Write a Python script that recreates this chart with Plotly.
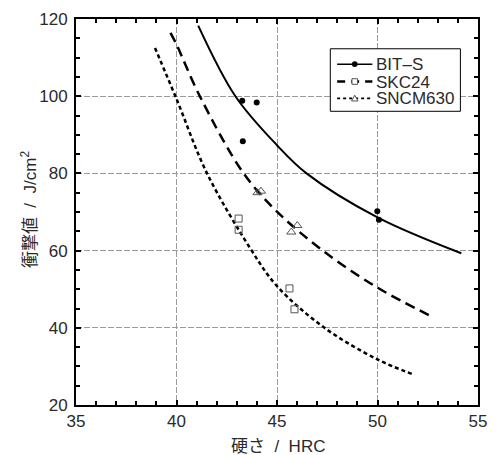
import plotly.graph_objects as go

# --- data ---
bit_line_x = [41.08, 42.93, 45.0, 46.47, 50.0, 54.17]
bit_line_y = [118.3, 100.0, 87.3, 80.0, 68.6, 59.3]
bit_pts_x = [43.27, 43.99, 43.3, 49.99, 50.07]
bit_pts_y = [98.8, 98.4, 88.3, 70.2, 68.0]

skc_line_x = [39.7, 40.0, 41.16, 43.34, 45.0, 47.28, 50.0, 52.71]
skc_line_y = [116.4, 113.4, 100.0, 80.0, 70.1, 60.0, 50.4, 42.9]
skc_pts_x = [43.09, 43.09, 45.62, 45.87]
skc_pts_y = [68.3, 65.4, 50.2, 44.8]

sncm_line_x = [38.93, 40.0, 41.52, 43.74, 45.0, 47.36, 50.0, 51.74]
sncm_line_y = [112.5, 99.3, 80.0, 60.0, 50.8, 40.0, 31.8, 28.0]
sncm_pts_x = [44.03, 44.2, 45.71, 46.01]
sncm_pts_y = [75.0, 75.4, 64.8, 66.5]

names = ["BIT\u2013S", "SKC24", "SNCM630"]
x_title = "硬さ  /  HRC"
y_title = "衝撃値  /  J/cm<sup>2</sup>"

FONT = "Liberation Sans, Arial, Noto Sans CJK JP, sans-serif"
TXT = "#2a2a2a"
GRAY = "#555555"

# layout geometry (pixels)
W, H = 497, 455
ML, MR, MT, MB = 76, 10, 16, 50
PW, PH = W - ML - MR, H - MT - MB


def xp(px):
    return (px - ML) / PW


def yp(py):
    return 1 - (py - MT) / PH


fig = go.Figure()

# curves
fig.add_trace(go.Scatter(x=bit_line_x, y=bit_line_y, mode="lines",
                         line=dict(color="black", width=2, shape="spline"),
                         showlegend=False))
fig.add_trace(go.Scatter(x=skc_line_x, y=skc_line_y, mode="lines",
                         line=dict(color="black", width=2.5, shape="spline", dash="10px,6px"),
                         showlegend=False))
fig.add_trace(go.Scatter(x=sncm_line_x, y=sncm_line_y, mode="lines",
                         line=dict(color="black", width=2.5, shape="spline", dash="4px,3px"),
                         showlegend=False))

# markers
fig.add_trace(go.Scatter(x=bit_pts_x, y=bit_pts_y, mode="markers",
                         marker=dict(symbol="circle", size=6, color="black"),
                         showlegend=False))
fig.add_trace(go.Scatter(x=skc_pts_x, y=skc_pts_y, mode="markers",
                         marker=dict(symbol="square-open", size=7, color=GRAY,
                                     line=dict(width=1)),
                         showlegend=False))
fig.add_trace(go.Scatter(x=sncm_pts_x, y=sncm_pts_y, mode="markers",
                         marker=dict(symbol="triangle-up-open", size=8, color=GRAY,
                                     line=dict(width=1)),
                         showlegend=False))

axis_common = dict(
    showline=True, linecolor="black", linewidth=2, mirror="ticks",
    ticks="inside", ticklen=5, tickcolor="black", tickwidth=1.5,
    showgrid=True, gridcolor="#9a9a9a", gridwidth=1, griddash="6px,2px",
    zeroline=False,
    tickfont=dict(family=FONT, size=17, color=TXT),
)

fig.update_xaxes(range=[35, 55], tick0=35, dtick=5,
                 minor=dict(dtick=1, ticks="inside", ticklen=4, tickcolor="black", showgrid=False),
                 **axis_common)
fig.update_yaxes(range=[20, 120], tick0=20, dtick=20, ticklabelstandoff=3,
                 minor=dict(dtick=5, ticks="inside", ticklen=4, tickcolor="black", showgrid=False),
                 **axis_common)

# ---- hand-built legend (box, samples, labels) ----
shapes = []
annotations = []
shapes.append(dict(type="rect", xref="paper", yref="paper",
                   x0=xp(336), x1=xp(469), y0=yp(109), y1=yp(46),
                   line=dict(color="black", width=1), fillcolor="white", layer="above"))
rows = [61.5, 79, 96]
lx0, lx1, mx = 343, 379, 361
dashes = ["solid", "8px,6px", "3px,3px"]
widths = [1.5, 2.5, 1.8]
for i, (row, nm) in enumerate(zip(rows, names)):
    shapes.append(dict(type="line", xref="paper", yref="paper",
                       x0=xp(lx0), x1=xp(lx1), y0=yp(row), y1=yp(row),
                       line=dict(color="black", width=widths[i], dash=dashes[i]),
                       layer="above"))
    annotations.append(dict(text=nm, xref="paper", yref="paper",
                            x=xp(381), y=yp(row + 0.5), xanchor="left", yanchor="middle",
                            showarrow=False, font=dict(family=FONT, size=17, color=TXT)))
# legend symbols
shapes.append(dict(type="circle", xref="paper", yref="paper",
                   xsizemode="pixel", ysizemode="pixel",
                   xanchor=xp(mx), yanchor=yp(rows[0]),
                   x0=-2.8, x1=2.8, y0=-2.8, y1=2.8,
                   fillcolor="black", line=dict(color="black", width=0), layer="above"))
shapes.append(dict(type="rect", xref="paper", yref="paper",
                   xsizemode="pixel", ysizemode="pixel",
                   xanchor=xp(mx), yanchor=yp(rows[1]),
                   x0=-2.8, x1=2.8, y0=-2.8, y1=2.8,
                   fillcolor="white", line=dict(color=GRAY, width=1), layer="above"))
shapes.append(dict(type="path", xref="paper", yref="paper",
                   xsizemode="pixel", ysizemode="pixel",
                   xanchor=xp(mx), yanchor=yp(rows[2]),
                   path="M-3.2,-2.6 L3.2,-2.6 L0,3.2 Z",
                   fillcolor="white", line=dict(color=GRAY, width=1), layer="above"))

# axis titles
annotations.append(dict(text=x_title, xref="paper", yref="paper",
                        x=xp(282.5), y=yp(446.5), xanchor="center", yanchor="middle",
                        showarrow=False, font=dict(family=FONT, size=17, color=TXT)))
annotations.append(dict(text=y_title, xref="paper", yref="paper",
                        x=xp(27.5), y=yp(208), xanchor="center", yanchor="middle",
                        textangle=-90, showarrow=False,
                        font=dict(family=FONT, size=17, color=TXT)))

fig.update_layout(
    width=W, height=H,
    margin=dict(l=ML, r=MR, t=MT, b=MB),
    paper_bgcolor="white", plot_bgcolor="white",
    font=dict(family=FONT, size=17, color=TXT),
    showlegend=False,
    shapes=shapes, annotations=annotations,
)

fig.write_html("out.html")
